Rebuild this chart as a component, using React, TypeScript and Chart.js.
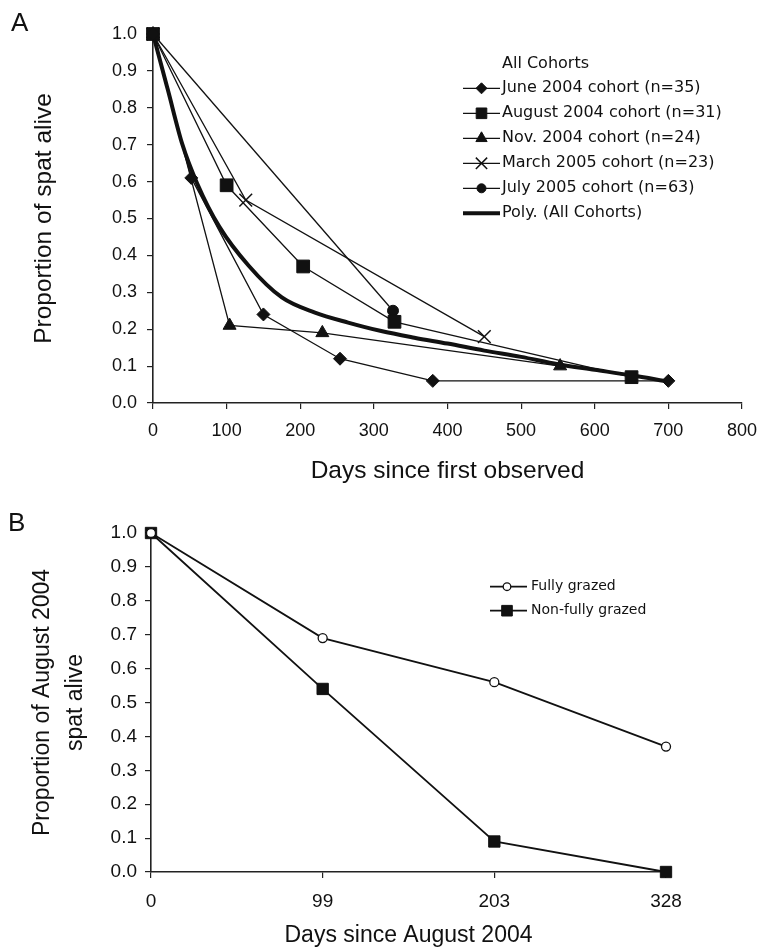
import React, { useEffect, useRef } from 'react';
import { Chart, registerables } from 'chart.js';

Chart.register(...registerables);

const W = 768;
const ARIAL = "'Liberation Sans', Arial, sans-serif";
const VERDANA = "'DejaVu Sans', Verdana, sans-serif";
const INK = '#111';

// ---------- Panel A data ----------
const juneDays = [0, 52, 150, 254, 380, 700];
const juneVals = [1.0, 0.61, 0.24, 0.12, 0.06, 0.06];
const augDays = [0, 100, 204, 328, 650];
const augVals = [1.0, 0.59, 0.37, 0.22, 0.07];
const novDays = [0, 104, 230, 553];
const novVals = [1.0, 0.21, 0.19, 0.1];
const marDays = [0, 126, 450];
const marVals = [1.0, 0.55, 0.18];
const julDays = [0, 326];
const julVals = [1.0, 0.25];
const polyDays = [0, 20, 40, 60, 90, 130, 175, 220, 265, 310, 355, 400, 450, 500, 550, 600, 650, 700];
const polyVals = [1.0, 0.85, 0.7, 0.595, 0.478, 0.372, 0.286, 0.245, 0.218, 0.195, 0.177, 0.161, 0.142, 0.125, 0.105, 0.09, 0.075, 0.058];
const seriesLabelsA = [
  'June 2004 cohort (n=35)',
  'August 2004 cohort (n=31)',
  'Nov. 2004 cohort (n=24)',
  'March 2005 cohort (n=23)',
  'July 2005 cohort (n=63)',
  'Poly. (All Cohorts)',
];
const legendTitleA = 'All Cohorts';
const xTitleA = 'Days since first observed';
const yTitleA = 'Proportion of spat alive';

// ---------- Panel B data ----------
const daysB = ['0', '99', '203', '328'];
const fullyVals = [1.0, 0.69, 0.56, 0.37];
const nonFullyVals = [1.0, 0.54, 0.09, 0.0];
const seriesLabelsB = ['Fully grazed', 'Non-fully grazed'];
const xTitleB = 'Days since August 2004';
const yTitleB = ['Proportion of August 2004', 'spat alive'];

const pts = (xs: number[], ys: number[]) => xs.map((x, i) => ({ x, y: ys[i] }));

function drawMarker(ctx: CanvasRenderingContext2D, style: string, x: number, y: number, r: number, fill: string, stroke: string, lw: number) {
  ctx.save();
  ctx.beginPath();
  ctx.lineWidth = lw;
  ctx.strokeStyle = stroke;
  ctx.fillStyle = fill;
  if (style === 'rectRot') {
    ctx.moveTo(x - r, y); ctx.lineTo(x, y - r); ctx.lineTo(x + r, y); ctx.lineTo(x, y + r); ctx.closePath();
  } else if (style === 'rect') {
    const s = r * Math.SQRT1_2;
    ctx.rect(x - s, y - s, 2 * s, 2 * s);
  } else if (style === 'triangle') {
    ctx.moveTo(x, y - r); ctx.lineTo(x + 0.866 * r, y + 0.5 * r); ctx.lineTo(x - 0.866 * r, y + 0.5 * r); ctx.closePath();
  } else if (style === 'crossRot') {
    const d = r * Math.SQRT1_2;
    ctx.moveTo(x - d, y - d); ctx.lineTo(x + d, y + d);
    ctx.moveTo(x + d, y - d); ctx.lineTo(x - d, y + d);
  } else if (style === 'circle') {
    ctx.arc(x, y, r, 0, Math.PI * 2);
  }
  if (style !== 'crossRot') ctx.fill();
  ctx.stroke();
  ctx.restore();
}

type LegendSpec = {
  id: string;
  x0: number; x1: number; mx: number; tx: number; y0: number; dy: number;
  font: string; title?: string; titleY?: number;
  panel: string; panelX: number; panelY: number;
};

function makeLegendPlugin(spec: LegendSpec) {
  return {
    id: spec.id,
    afterDraw(chart: any) {
      const ctx: CanvasRenderingContext2D = chart.ctx;
      ctx.save();
      ctx.fillStyle = INK;
      ctx.textBaseline = 'middle';
      ctx.textAlign = 'left';
      ctx.font = `26px ${ARIAL}`;
      ctx.fillText(spec.panel, spec.panelX, spec.panelY);
      ctx.font = spec.font;
      if (spec.title) ctx.fillText(spec.title, spec.tx, spec.titleY!);
      chart.data.datasets.forEach((ds: any, i: number) => {
        const y = spec.y0 + i * spec.dy;
        ctx.save();
        ctx.strokeStyle = INK;
        ctx.lineWidth = ds.borderWidth;
        ctx.beginPath();
        ctx.moveTo(spec.x0, y);
        ctx.lineTo(spec.x1, y);
        ctx.stroke();
        ctx.restore();
        if (ds.pointRadius > 0) {
          drawMarker(ctx, ds.pointStyle, spec.mx, y, ds.legendRadius, ds.pointBackgroundColor, INK, ds.pointBorderWidth);
        }
        ctx.fillStyle = INK;
        ctx.fillText(ds.label, spec.tx, y);
      });
      ctx.restore();
    },
  };
}

const axisCommon = (size: number) => ({
  grid: { drawOnChartArea: false, drawTicks: true, tickLength: 6, color: '#222', lineWidth: 1.2 },
  border: { display: true, color: '#222', width: 1.6 },
  ticks: { color: INK, font: { family: ARIAL, size } },
});

function lineDs(label: string, data: any[], style: string, r: number, legendRadius: number, extra: any = {}) {
  return {
    label,
    data,
    borderColor: INK,
    borderWidth: 1.3,
    pointStyle: style,
    pointRadius: r,
    pointHoverRadius: r,
    pointBackgroundColor: INK,
    pointBorderColor: INK,
    pointBorderWidth: 1,
    legendRadius,
    tension: 0,
    clip: false,
    fill: false,
    ...extra,
  };
}

function configA(): any {
  const a = axisCommon(18);
  return {
    type: 'line',
    data: {
      datasets: [
        lineDs(seriesLabelsA[0], pts(juneDays, juneVals), 'rectRot', 6.5, 5.5),
        lineDs(seriesLabelsA[1], pts(augDays, augVals), 'rect', 9, 7.5),
        lineDs(seriesLabelsA[2], pts(novDays, novVals), 'triangle', 7.5, 6.5),
        lineDs(seriesLabelsA[3], pts(marDays, marVals), 'crossRot', 9, 8, { pointBorderWidth: 1.5, pointBackgroundColor: 'rgba(0,0,0,0)' }),
        lineDs(seriesLabelsA[4], pts(julDays, julVals), 'circle', 5.5, 4.5),
        lineDs(seriesLabelsA[5], pts(polyDays, polyVals), 'circle', 0, 0, { borderWidth: 4, cubicInterpolationMode: 'monotone' }),
      ],
    },
    options: {
      responsive: false,
      animation: false,
      events: [],
      layout: { padding: { left: 0, right: 25, top: 34, bottom: 0 } },
      plugins: { legend: { display: false }, tooltip: { enabled: false } },
      scales: {
        x: {
          type: 'linear', min: 0, max: 800,
          ...a,
          ticks: { ...a.ticks, stepSize: 100, padding: 11, maxRotation: 0 },
          title: { display: true, text: xTitleA, color: INK, font: { family: ARIAL, size: 24.5 }, padding: { top: 0, bottom: 4 } },
          afterFit: (s: any) => { s.height = 87; },
        },
        y: {
          type: 'linear', min: 0, max: 1,
          ...a,
          ticks: { ...a.ticks, stepSize: 0.1, padding: 10, callback: (v: number) => v.toFixed(1) },
          title: { display: true, text: yTitleA, color: INK, font: { family: ARIAL, size: 24.5 }, padding: { top: 30, bottom: 0 } },
          afterFit: (s: any) => { s.width = 153; },
        },
      },
    },
    plugins: [makeLegendPlugin({
      id: 'legA', x0: 463, x1: 500, mx: 481.5, tx: 502, y0: 88.3, dy: 25,
      font: `16px ${VERDANA}`, title: legendTitleA, titleY: 64,
      panel: 'A', panelX: 11, panelY: 24,
    })],
  };
}

function configB(): any {
  const a = axisCommon(19);
  return {
    type: 'line',
    data: {
      labels: daysB,
      datasets: [
        lineDs(seriesLabelsB[0], fullyVals, 'circle', 4.5, 3.8, { borderWidth: 1.8, pointBackgroundColor: '#fff', pointBorderWidth: 1.3 }),
        lineDs(seriesLabelsB[1], nonFullyVals, 'rect', 8, 7.5, { borderWidth: 1.8 }),
      ],
    },
    options: {
      responsive: false,
      animation: false,
      events: [],
      layout: { padding: { left: 0, right: 102, top: 43, bottom: 0 } },
      plugins: { legend: { display: false }, tooltip: { enabled: false } },
      scales: {
        x: {
          type: 'category', offset: false,
          ...a,
          ticks: { ...a.ticks, padding: 12, maxRotation: 0 },
          title: { display: true, text: xTitleB, color: INK, font: { family: ARIAL, size: 23 }, padding: { top: 0, bottom: 0 } },
          afterFit: (s: any) => { s.height = 77; },
        },
        y: {
          type: 'linear', min: 0, max: 1,
          ...a,
          ticks: { ...a.ticks, stepSize: 0.1, padding: 8, callback: (v: number) => v.toFixed(1) },
          title: { display: true, text: yTitleB, color: INK, font: { family: ARIAL, size: 23, lineHeight: 1.4 }, padding: { top: 27, bottom: 0 } },
          afterFit: (s: any) => { s.width = 151; },
        },
      },
    },
    plugins: [makeLegendPlugin({
      id: 'legB', x0: 490, x1: 527, mx: 507, tx: 531, y0: 96.7, dy: 24,
      font: `14px ${VERDANA}`,
      panel: 'B', panelX: 8, panelY: 34,
    })],
  };
}

function Panel({ top, height, make }: { top: number; height: number; make: () => any }) {
  const ref = useRef<HTMLCanvasElement>(null);
  useEffect(() => {
    const chart = new Chart(ref.current as HTMLCanvasElement, make());
    return () => chart.destroy();
  }, []);
  return (
    <div style={{ position: 'absolute', left: 0, top, width: W, height }}>
      <canvas ref={ref} width={W} height={height} style={{ width: W, height, display: 'block' }} />
    </div>
  );
}

export default function App() {
  return (
    <div style={{ position: 'absolute', left: 0, top: 0, width: W, height: 949, background: '#fff' }}>
      <Panel top={0} height={490} make={configA} />
      <Panel top={490} height={459} make={configB} />
    </div>
  );
}
